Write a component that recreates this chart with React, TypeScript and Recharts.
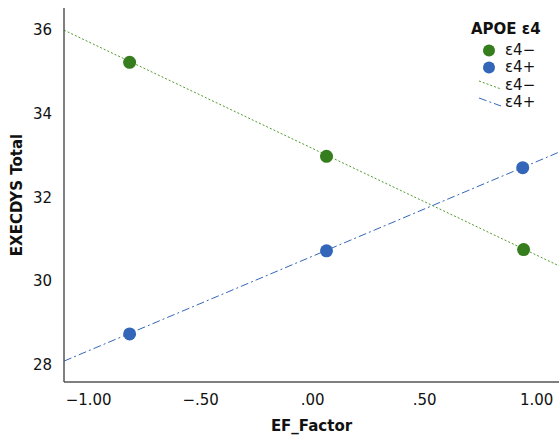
import React from "react";
import { ComposedChart, Scatter, Line, XAxis, YAxis } from "recharts";

const efNeg = [-0.817, 0.062, 0.942];
const execNeg = [35.23, 32.98, 30.75];
const efPos = [-0.817, 0.062, 0.938];
const execPos = [28.73, 30.72, 32.71];
const fitX = [-1.11, 1.1];
const fitNeg = [36.0, 30.36];
const fitPos = [28.08, 33.08];
const xTicks = [-1, -0.5, 0, 0.5, 1];
const xTickLabels = ["\u22121.00", "\u2212.50", ".00", ".50", "1.00"];
const yTicks = [28, 30, 32, 34, 36];

const GREEN = "#357d1d";
const BLUE = "#3366b8";
const FONT = "'DejaVu Sans', sans-serif";

const negPts = efNeg.map((x, i) => ({ x, y: execNeg[i] }));
const posPts = efPos.map((x, i) => ({ x, y: execPos[i] }));
const negFit = fitX.map((x, i) => ({ x, y: fitNeg[i] }));
const posFit = fitX.map((x, i) => ({ x, y: fitPos[i] }));

export default function App() {
  return (
    <div style={{ position: "absolute", left: 0, top: 0, width: 559, height: 439, fontFamily: FONT }}>
      <ComposedChart width={559} height={439} margin={{ top: 8, right: 0, bottom: 0, left: 0 }}>
        <XAxis
          type="number"
          dataKey="x"
          domain={[-1.11, 1.1]}
          ticks={xTicks}
          allowDataOverflow
          tickFormatter={(v: number) => xTickLabels[xTicks.indexOf(v)] ?? String(v)}
          tickLine={false}
          axisLine={{ stroke: "#555", strokeWidth: 1.5 }}
          tick={{ fill: "#111", fontSize: 15, fontFamily: FONT }}
          tickMargin={6}
          height={57}
          label={{ value: "EF_Factor", position: "insideBottom", offset: 8, fontSize: 15, fontWeight: "bold", fill: "#111", fontFamily: FONT, dx: 0 }}
        />
        <YAxis
          type="number"
          dataKey="y"
          domain={[27.58, 36.53]}
          ticks={yTicks}
          allowDataOverflow
          tickLine={false}
          axisLine={{ stroke: "#555", strokeWidth: 1.5 }}
          tick={{ fill: "#111", fontSize: 15, fontFamily: FONT }}
          tickMargin={6}
          width={64}
          label={{ value: "EXECDYS Total", angle: -90, position: "insideLeft", offset: 17, fontSize: 15, fontWeight: "bold", fill: "#111", fontFamily: FONT, style: { textAnchor: "middle" } }}
        />
        <Line data={negFit} dataKey="y" stroke="#4e9a2a" strokeWidth={1} strokeDasharray="2 2" dot={false} isAnimationActive={false} legendType="none" />
        <Line data={posFit} dataKey="y" stroke={BLUE} strokeWidth={1} strokeDasharray="8 3 2 3" dot={false} isAnimationActive={false} legendType="none" />
        <Scatter data={negPts} fill={GREEN} shape={(p: any) => <circle cx={p.cx} cy={p.cy} r={6.5} fill={GREEN} />} isAnimationActive={false} />
        <Scatter data={posPts} fill={BLUE} shape={(p: any) => <circle cx={p.cx} cy={p.cy} r={6.5} fill={BLUE} />} isAnimationActive={false} />
      </ComposedChart>
      <div style={{ position: "absolute", left: 471, top: 21, fontSize: 15, color: "#111", lineHeight: "17.5px" }}>
        <div style={{ fontWeight: "bold", marginBottom: 3 }}>APOE ε4</div>
        {[
          { kind: "dot", color: GREEN, label: "ε4\u2212" },
          { kind: "dot", color: BLUE, label: "ε4+" },
          { kind: "line", color: "#4e9a2a", dash: "2 2", label: "ε4\u2212" },
          { kind: "line", color: BLUE, dash: "8 3 2 3", label: "ε4+" },
        ].map((it, i) => (
          <div key={i} style={{ display: "flex", alignItems: "center", height: 17.5 }}>
            <svg width={34} height={17} style={{ display: "block" }}>
              {it.kind === "dot" ? (
                <circle cx={18} cy={8.5} r={6} fill={it.color} />
              ) : (
                <line x1={8} y1={4} x2={30} y2={12} stroke={it.color} strokeWidth={1} strokeDasharray={it.dash} />
              )}
            </svg>
            <span>{it.label}</span>
          </div>
        ))}
      </div>
    </div>
  );
}
